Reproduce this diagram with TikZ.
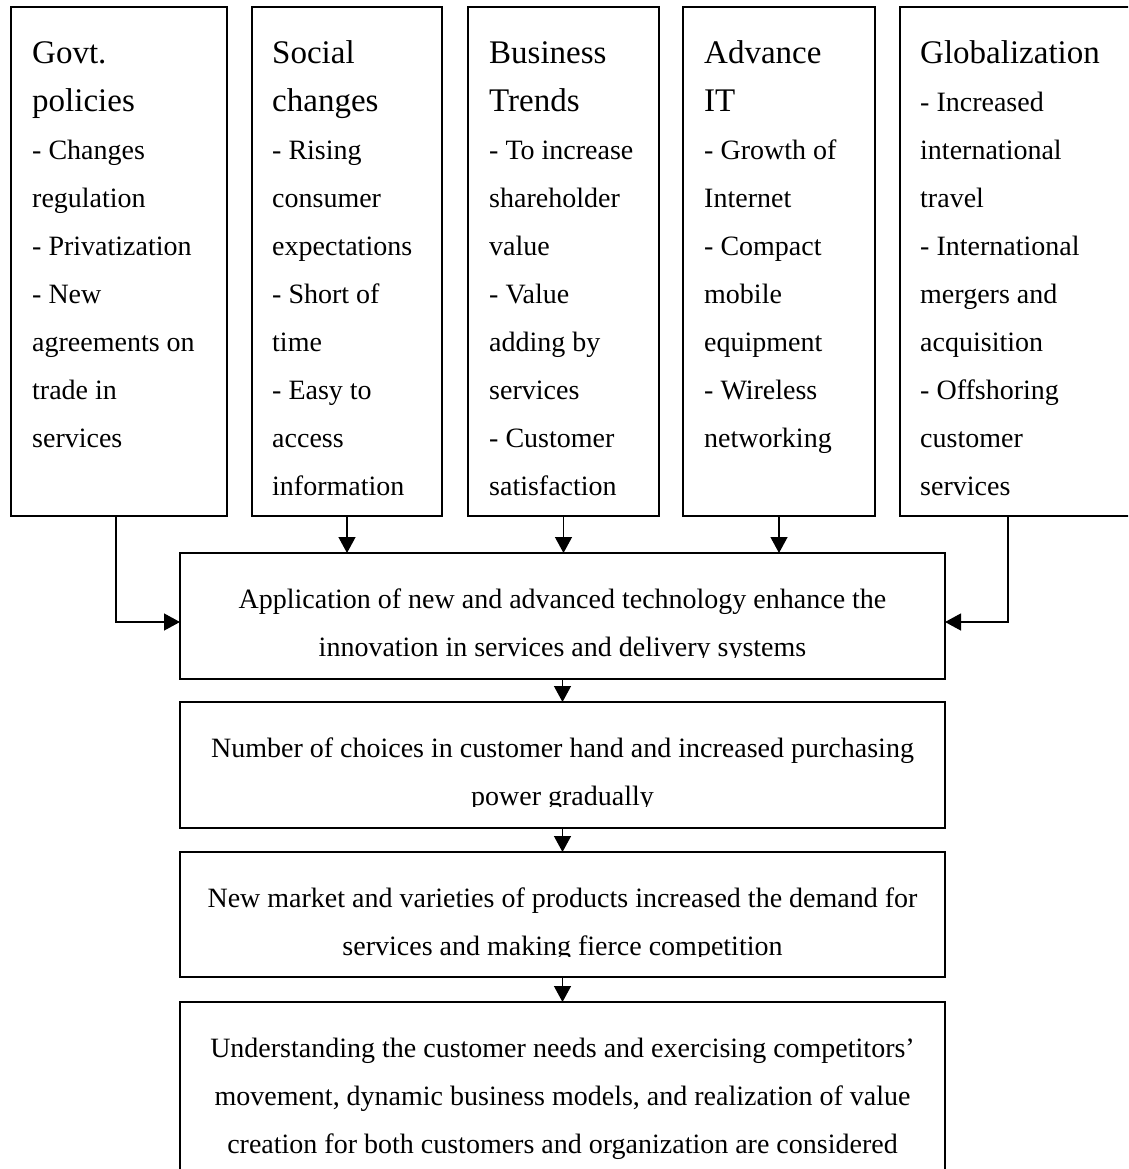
\documentclass[tikz,border=0pt]{standalone}
\usepackage{fontspec}
\setmainfont{Liberation Serif}
\usetikzlibrary{arrows.meta}
\newcommand\hdfont{\fontsize{33}{48}\selectfont}
\begin{document}
\begin{tikzpicture}[x=1pt,y=-1pt,
  box/.style={draw, line width=1.6pt, rectangle, inner sep=0pt, outer sep=0pt, anchor=north west},
  toptext/.style={anchor=north west, inner sep=0pt, align=left, font=\fontsize{28}{48}\selectfont},
  midtext/.style={anchor=north, inner sep=0pt, align=center, font=\fontsize{28}{48}\selectfont},
  conn/.style={line width=1.3pt, -{Triangle[length=16pt,width=17pt]}}]
\useasboundingbox (0,0) rectangle (1128,1169);
\clip (0,0) rectangle (1128,1169);

% top boxes
\node[box, minimum width=216pt, minimum height=509pt] (b1) at (11,7) {};
\node[box, minimum width=190pt, minimum height=509pt] (b2) at (252,7) {};
\node[box, minimum width=191pt, minimum height=509pt] (b3) at (468,7) {};
\node[box, minimum width=192pt, minimum height=509pt] (b4) at (683,7) {};
\node[box, minimum width=240pt, minimum height=509pt] (b5) at (900,7) {};

\node[toptext] (t1) at (32,33) {\rule{0pt}{30pt}{\hdfont Govt.}\\{\hdfont policies}\\- Changes\\regulation\\- Privatization\\- New\\agreements on\\trade in\\services};
\node[toptext] (t2) at (272,33) {\rule{0pt}{30pt}{\hdfont Social}\\{\hdfont changes}\\- Rising\\consumer\\expectations\\- Short of\\time\\- Easy to\\access\\information};
\node[toptext] (t3) at (489,33) {\rule{0pt}{30pt}{\hdfont Business}\\{\hdfont Trends}\\- To increase\\shareholder\\value\\- Value\\adding by\\services\\- Customer\\satisfaction};
\node[toptext] (t4) at (704,33) {\rule{0pt}{30pt}{\hdfont Advance}\\{\hdfont IT}\\- Growth of\\Internet\\- Compact\\mobile\\equipment\\- Wireless\\networking};
\node[toptext] (t5) at (920,33) {\rule{0pt}{30pt}{\hdfont Globalization}\\- Increased\\international\\travel\\- International\\mergers and\\acquisition\\- Offshoring\\customer\\services};

% flow boxes
\node[box, minimum width=765pt, minimum height=126pt] (A) at (180,553) {};
\node[box, minimum width=765pt, minimum height=126pt] (B) at (180,702) {};
\node[box, minimum width=765pt, minimum height=125pt] (C) at (180,852) {};
\node[box, minimum width=765pt, minimum height=200pt] (D) at (180,1002) {};

\begin{scope}
\clip (180,553) rectangle (945,657);
\node[midtext] (ta) at (562.5,578) {\rule{0pt}{30pt}Application of new and advanced technology enhance the\\innovation in services and delivery systems};
\end{scope}
\begin{scope}
\clip (180,702) rectangle (945,806);
\node[midtext] (tb) at (562.5,727) {\rule{0pt}{30pt}Number of choices in customer hand and increased purchasing\\power gradually};
\end{scope}
\begin{scope}
\clip (180,852) rectangle (945,956);
\node[midtext] (tc) at (562.5,877) {\rule{0pt}{30pt}New market and varieties of products increased the demand for\\services and making fierce competition};
\end{scope}
\node[midtext] (td) at (562.5,1027) {\rule{0pt}{30pt}Understanding the customer needs and exercising competitors’\\movement, dynamic business models, and realization of value\\creation for both customers and organization are considered};

% connectors
\draw[conn] ([xshift=-3pt]b1.south) |- ([yshift=-6pt]A.west);
\draw[conn] (b2.south) -- (b2.south |- A.north);
\draw[conn] (b3.south) -- (b3.south |- A.north);
\draw[conn] (b4.south) -- (b4.south |- A.north);
\draw[conn] ([xshift=-12pt]b5.south) |- ([yshift=-6pt]A.east);
\draw[conn] (A.south) -- (B.north);
\draw[conn] (B.south) -- (C.north);
\draw[conn] (C.south) -- (D.north);
\end{tikzpicture}
\end{document}
